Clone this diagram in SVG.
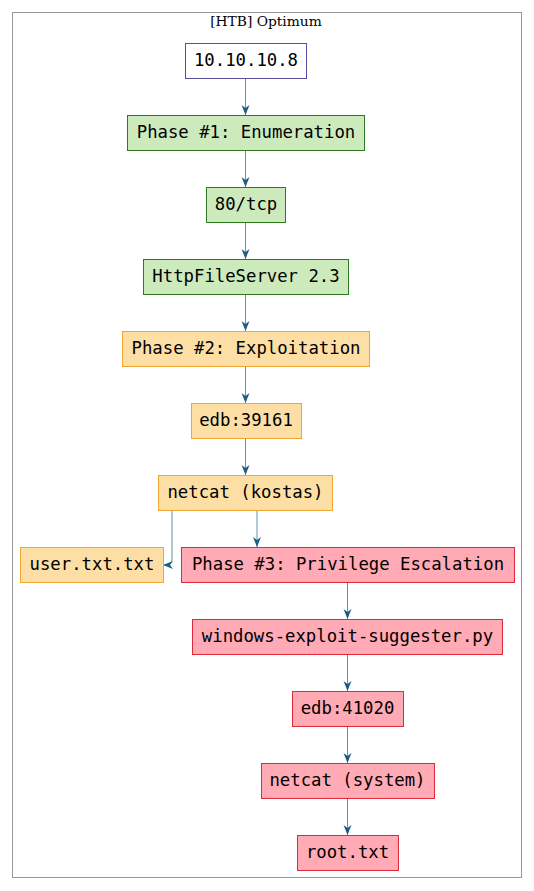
<svg xmlns="http://www.w3.org/2000/svg" width="534" height="891" viewBox="0 0 534 891">
<defs>
<marker id="vee" viewBox="0 0 10 10" refX="10" refY="5" markerWidth="10" markerHeight="10" markerUnits="userSpaceOnUse" orient="auto">
<path d="M0,1 L10,5 L0,9 L3,5 Z" fill="#1c5f86"/>
</marker>
</defs>
<style>
text{font-family:"DejaVu Sans Mono",monospace;font-size:17.3px;fill:#000;text-anchor:middle}
.title{font-family:"DejaVu Serif",serif;font-size:13.8px}
.g rect{fill:#cdeabd;stroke:#2e7a22}
.o rect{fill:#fddfa6;stroke:#f0a630}
.r rect{fill:#ffaab4;stroke:#e02a3a}
.p rect{fill:#fff;stroke:#5a4ea0}
rect{stroke-width:1}
#edges path{fill:none;stroke:#2a6f96;stroke-opacity:0.75;stroke-width:1;marker-end:url(#vee)}
</style>
<rect width="534" height="891" fill="#fff"/>
<g id="cluster">
<rect x="12.5" y="12.5" width="509" height="865" fill="none" stroke="#999" stroke-width="1.3"/>
<text class="title" x="266" y="26">[HTB] Optimum</text>
</g>
<g id="edges">
<path d="M245.5,78 V115"/>
<path d="M245.5,150 V187"/>
<path d="M245.5,222 V259"/>
<path d="M245.5,294 V331"/>
<path d="M245.5,366 V403"/>
<path d="M245.5,438 V475"/>
<path d="M257,510 V547"/>
<path d="M172,510 V559 Q172,565 166,565 H163"/>
<path d="M347.5,582 V619"/>
<path d="M347.5,654 V691"/>
<path d="M347.5,726 V763"/>
<path d="M347.5,798 V835"/>
</g>
<g id="n1" class="p"><rect x="185.5" y="43.5" width="121" height="35"/><text x="246" y="66">10.10.10.8</text></g>
<g id="n2" class="g"><rect x="127.5" y="115.5" width="237" height="35"/><text x="246" y="138">Phase #1: Enumeration</text></g>
<g id="n3" class="g"><rect x="206.5" y="187.5" width="79" height="35"/><text x="246" y="210">80/tcp</text></g>
<g id="n4" class="g"><rect x="143.5" y="259.5" width="205" height="35"/><text x="246" y="282">HttpFileServer 2.3</text></g>
<g id="n5" class="o"><rect x="122.5" y="331.5" width="247" height="35"/><text x="246" y="354">Phase #2: Exploitation</text></g>
<g id="n6" class="o"><rect x="191.5" y="403.5" width="110" height="35"/><text x="246" y="426">edb:39161</text></g>
<g id="n7" class="o"><rect x="158.5" y="475.5" width="174" height="35"/><text x="245.5" y="498">netcat (kostas)</text></g>
<g id="n8" class="o"><rect x="20.5" y="547.5" width="143" height="35"/><text x="92" y="570">user.txt.txt</text></g>
<g id="n9" class="r"><rect x="181.5" y="547.5" width="333" height="35"/><text x="348" y="570">Phase #3: Privilege Escalation</text></g>
<g id="n10" class="r"><rect x="192.5" y="619.5" width="310" height="35"/><text x="347.5" y="642">windows-exploit-suggester.py</text></g>
<g id="n11" class="r"><rect x="292.5" y="691.5" width="111" height="35"/><text x="347.5" y="714">edb:41020</text></g>
<g id="n12" class="r"><rect x="261.5" y="763.5" width="173" height="35"/><text x="347.5" y="786">netcat (system)</text></g>
<g id="n13" class="r"><rect x="297.5" y="835.5" width="101" height="35"/><text x="347.5" y="858">root.txt</text></g>
</svg>
